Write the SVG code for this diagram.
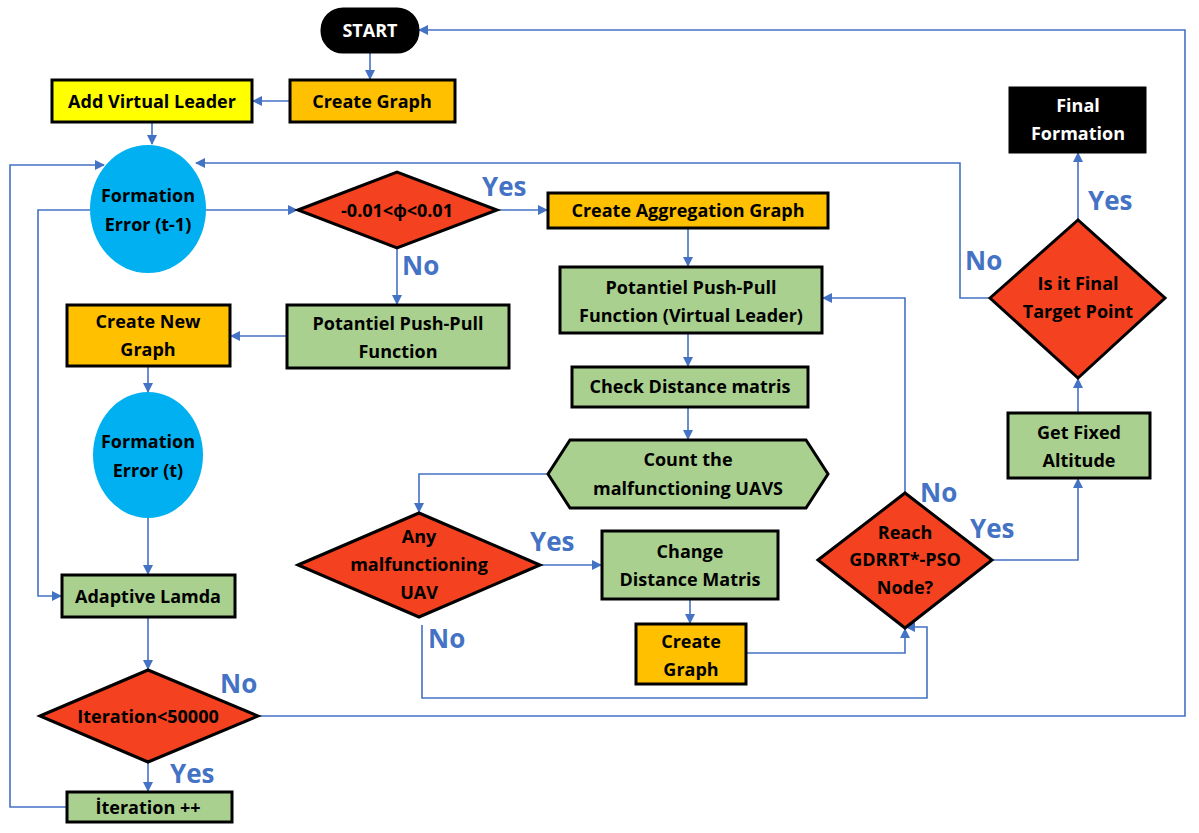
<svg xmlns="http://www.w3.org/2000/svg" width="1199" height="833" viewBox="0 0 1199 833">
<style>
.n{stroke:#000;stroke-width:3}
.o{fill:#FFC000}.y{fill:#FFFF00}.g{fill:#A9D08E}.r{fill:#F4411F}.c{fill:#00B0F0;stroke:none}
text{font-family:"Open Sans","Liberation Sans",sans-serif;font-weight:bold;font-size:18px;text-anchor:middle;fill:#000}
.w{fill:#fff}
.l{fill:#4472C4;font-size:26px;text-anchor:start}
#edges path{fill:none;stroke:#4472C4;stroke-width:1.6;marker-end:url(#a)}
</style>
<defs><marker id="a" markerWidth="10" markerHeight="10" refX="9" refY="5" orient="auto" markerUnits="userSpaceOnUse"><path d="M0,0L10,5L0,10z" fill="#4472C4"/></marker></defs>
<rect width="1199" height="833" fill="#fff"/>
<g id="edges">
<path d="M370,52V79"/>
<path d="M290,101H253"/>
<path d="M152,122V144"/>
<path d="M205,210H297"/>
<path d="M497,210H547"/>
<path d="M397,248V304"/>
<path d="M287,336H231"/>
<path d="M148,366V392"/>
<path d="M148,518V574"/>
<path d="M90,210H38V596H61"/>
<path d="M148,617V669"/>
<path d="M148,762V791"/>
<path d="M67,807H10V165H104"/>
<path d="M258,716H1185V30H419"/>
<path d="M688,228V266"/>
<path d="M688,333V366"/>
<path d="M688,407V439"/>
<path d="M548,474H419V512"/>
<path d="M540,565H601"/>
<path d="M422,625V698H927V627H906"/>
<path d="M690,599V623"/>
<path d="M746,653H905V629"/>
<path d="M905,493V298H823"/>
<path d="M992,560H1078V479"/>
<path d="M1078,413V379"/>
<path d="M1078,220V153"/>
<path d="M990,298H960V163H196"/>
</g>
<g id="start"><rect class="n" x="322" y="9" width="96" height="43" rx="21" fill="#000"/><text class="w" x="370" y="37">START</text></g>
<g id="createGraph"><rect class="n o" x="290" y="80" width="165" height="42"/><text x="372" y="108">Create Graph</text></g>
<g id="addVL"><rect class="n y" x="52" y="80" width="200" height="42"/><text x="152" y="108">Add Virtual Leader</text></g>
<g id="fe1"><ellipse class="c" cx="148" cy="209" rx="58" ry="64"/><text x="148" y="202">Formation</text><text x="148" y="231">Error (t-1)</text></g>
<g id="cond1"><polygon class="n r" points="298,210 397,172 497,210 397,248"/><text x="397" y="217">-0.01&lt;ϕ&lt;0.01</text></g>
<g id="cag"><rect class="n o" x="548" y="193" width="280" height="35"/><text x="688" y="217">Create Aggregation Graph</text></g>
<g id="pppvl"><rect class="n g" x="560" y="267" width="262" height="66"/><text x="691" y="294">Potantiel Push-Pull</text><text x="691" y="322">Function (Virtual Leader)</text></g>
<g id="cdm"><rect class="n g" x="572" y="367" width="236" height="40"/><text x="690" y="393">Check Distance matris</text></g>
<g id="count"><polygon class="n g" points="548,474 570,440 806,440 828,474 806,508 570,508"/><text x="688" y="466">Count the</text><text x="688" y="495">malfunctioning UAVS</text></g>
<g id="any"><polygon class="n r" points="298,565 419,513 540,565 419,617"/><text x="419" y="543">Any</text><text x="419" y="571">malfunctioning</text><text x="419" y="599">UAV</text></g>
<g id="chg"><rect class="n g" x="602" y="531" width="176" height="68"/><text x="690" y="558">Change</text><text x="690" y="586">Distance Matris</text></g>
<g id="cg2"><rect class="n o" x="636" y="624" width="110" height="60"/><text x="691" y="648">Create</text><text x="691" y="676">Graph</text></g>
<g id="reach"><polygon class="n r" points="818,560 905,493 992,560 905,628"/><text x="905" y="539">Reach</text><text x="905" y="566">GDRRT*-PSO</text><text x="905" y="594">Node?</text></g>
<g id="alt"><rect class="n g" x="1008" y="413" width="142" height="65"/><text x="1079" y="439">Get Fixed</text><text x="1079" y="467">Altitude</text></g>
<g id="final"><polygon class="n r" points="990,298 1078,220 1165,298 1078,378"/><text x="1078" y="290">Is it Final</text><text x="1078" y="318">Target Point</text></g>
<g id="ff"><rect class="n" x="1010" y="88" width="135" height="64" fill="#000"/><text class="w" x="1078" y="112">Final</text><text class="w" x="1078" y="140">Formation</text></g>
<g id="cng"><rect class="n o" x="67" y="305" width="163" height="61"/><text x="148" y="328">Create New</text><text x="148" y="356">Graph</text></g>
<g id="ppp"><rect class="n g" x="287" y="305" width="222" height="63"/><text x="398" y="330">Potantiel Push-Pull</text><text x="398" y="358">Function</text></g>
<g id="fe2"><ellipse class="c" cx="148" cy="455" rx="55" ry="63"/><text x="148" y="448">Formation</text><text x="148" y="477">Error (t)</text></g>
<g id="al"><rect class="n g" x="62" y="575" width="173" height="42"/><text x="148" y="603">Adaptive Lamda</text></g>
<g id="iter"><polygon class="n r" points="40,716 148,670 258,716 148,762"/><text x="148" y="723">Iteration&lt;50000</text></g>
<g id="inc"><rect class="n g" x="67" y="792" width="165" height="30"/><text x="148" y="814">İteration ++</text></g>
<g id="labels">
<text class="l" x="482" y="196">Yes</text><text class="l" x="402" y="275">No</text>
<text class="l" x="530" y="551">Yes</text><text class="l" x="428" y="648">No</text>
<text class="l" x="220" y="693">No</text><text class="l" x="170" y="783">Yes</text>
<text class="l" x="920" y="502">No</text><text class="l" x="970" y="538">Yes</text>
<text class="l" x="965" y="270">No</text><text class="l" x="1088" y="210">Yes</text>
</g>
</svg>
